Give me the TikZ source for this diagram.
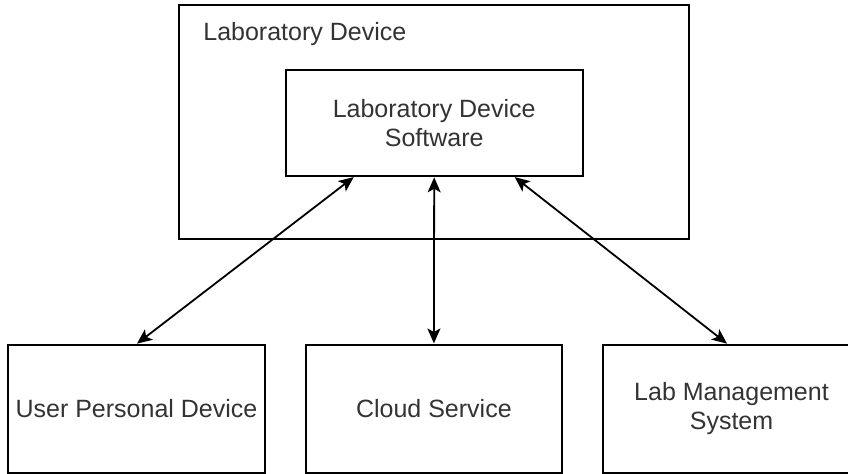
\documentclass[tikz,border=0pt]{standalone}
\usepackage{fontspec}
\setmainfont{Liberation Sans}
\usetikzlibrary{arrows.meta}
\definecolor{txt}{HTML}{333333}
\tikzset{
  box/.style={draw=black, line width=1pt, fill=white, inner sep=0pt, align=center,
    text=txt, font=\fontsize{12.5pt}{14.5pt}\selectfont},
  lbl/.style={inner sep=0pt, text=txt, font=\fontsize{12.5pt}{14.5pt}\selectfont},
  link/.style={line width=0.9pt, {Stealth[length=7.5pt,width=6.5pt,inset=1.8pt]}-{Stealth[length=7.5pt,width=6.5pt,inset=1.8pt]}, shorten <=0.3pt, shorten >=0.3pt}
}
\begin{document}
\begin{tikzpicture}[x=0.5pt,y=-0.5pt]
\clip (0,0) rectangle (848,474);
\fill[white] (0,0) rectangle (848,474);
\node[box, minimum width=255.25pt, minimum height=117pt] (ld) at (433.75,122) {};
\node[lbl, anchor=west] (ldl) at (203,34) {Laboratory Device};
\node[box, minimum width=148.5pt, minimum height=52.85pt] (sw) at (434.2,122.9) {Laboratory Device\\Software};
\node[box, minimum width=128.5pt, minimum height=63.85pt] (upd) at (136.5,408.9) {User Personal Device};
\node[box, minimum width=127.85pt, minimum height=63.85pt] (cs) at (433.9,408.9) {Cloud Service};
\node[box, minimum width=128.5pt, minimum height=63.85pt] (lms) at (731.5,408.9) {Lab Management\\System};
\draw[link] ([xshift=-40pt]sw.south) -- (upd.north);
\draw[link] (sw.south) -- (cs.north);
\draw[link] ([xshift=40pt]sw.south) -- ([xshift=-2pt]lms.north);
\end{tikzpicture}
\end{document}
